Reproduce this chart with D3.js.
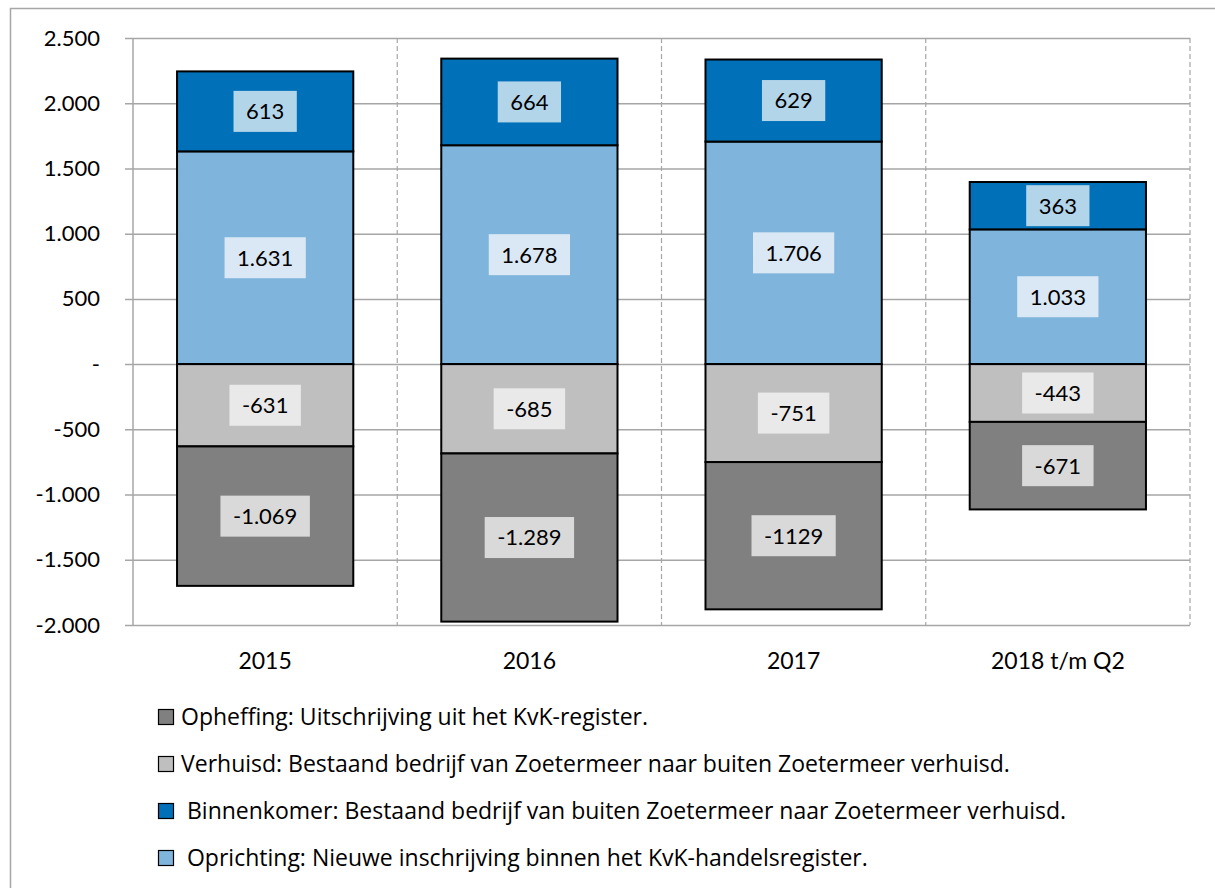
<!DOCTYPE html>
<html lang="nl">
<head>
  <meta charset="UTF-8" />
  <title>Vestigingen per jaar</title>
  <script src="https://d3js.org/d3.v7.min.js"></script>
  <style>
    body { margin: 0; background: #fff; }
    svg text { font-family: Lato, "Open Sans", sans-serif; fill: #000; }
  </style>
</head>
<body>
  <div id="chart"></div>
  <script>
    // data
    const years = ["2015", "2016", "2017", "2018 t/m Q2"];
    const oprichting = [1631, 1678, 1706, 1033];
    const binnenkomer = [613, 664, 629, 363];
    const verhuisd = [-631, -685, -751, -443];
    const opheffing = [-1069, -1289, -1129, -671];
    const yTicks = [2500, 2000, 1500, 1000, 500, 0, -500, -1000, -1500, -2000];
    const seriesKeys = ["Oprichting", "Binnenkomer", "Verhuisd", "Opheffing"];
    const legendItems = [
      ["Opheffing", "Opheffing: Uitschrijving uit het KvK-register."],
      ["Verhuisd", "Verhuisd: Bestaand bedrijf van Zoetermeer naar buiten Zoetermeer verhuisd."],
      ["Binnenkomer", " Binnenkomer: Bestaand bedrijf van buiten Zoetermeer naar Zoetermeer verhuisd."],
      ["Oprichting", " Oprichting: Nieuwe inschrijving binnen het KvK-handelsregister."]
    ];
    // one label in the original is printed without thousands separator
    const labelOverride = { "2017|Opheffing": "-1129" };

    const colors = { Oprichting: "#7fb5dc", Binnenkomer: "#0070b8", Verhuisd: "#bfbfbf", Opheffing: "#808080" };
    const labelFill = { Oprichting: "#d9e8f4", Binnenkomer: "#b3d5ea", Verhuisd: "#e9e9e9", Opheffing: "#d9d9d9" };

    const nl = d3.formatLocale({ decimal: ",", thousands: ".", grouping: [3], currency: ["€", ""], minus: "-" });
    const fmt = v => v === 0 ? "-" : nl.format(",")(v);

    const rows = years.map((y, i) => ({
      year: y, Oprichting: oprichting[i], Binnenkomer: binnenkomer[i], Verhuisd: verhuisd[i], Opheffing: opheffing[i]
    }));

    const width = 1215, height = 888;
    const plot = { left: 133, right: 1190, top: 38, bottom: 625 };

    const svg = d3.select("#chart").append("svg").attr("width", width).attr("height", height);

    // outer frame (runs off the right and bottom edges)
    svg.append("rect").attr("x", 10.5).attr("y", 8.5).attr("width", 1300).attr("height", 1000)
      .attr("fill", "none").attr("stroke", "#a6a6a6").attr("stroke-width", 1.5);

    const x = d3.scaleBand().domain(years).range([plot.left, plot.right]).paddingInner(0.333).paddingOuter(0.1667);
    const xCat = d3.scaleBand().domain(years).range([plot.left, plot.right]);
    const y = d3.scaleLinear().domain([-2000, 2500]).range([plot.bottom, plot.top]);

    // horizontal gridlines + y labels
    const yAxis = d3.axisLeft(y).tickValues(yTicks).tickFormat(fmt)
      .tickSize(-(plot.right - plot.left + 8)).tickPadding(25);
    const ga = svg.append("g").attr("transform", `translate(${plot.left - 8},0)`).call(yAxis);
    ga.select(".domain").remove();
    ga.selectAll(".tick line").attr("stroke", "#a6a6a6").attr("stroke-width", 1.5);
    ga.selectAll(".tick text").style("font-size", "22px").attr("fill", "#000");

    // vertical axis line and dashed category dividers
    svg.append("line").attr("x1", plot.left).attr("x2", plot.left).attr("y1", plot.top).attr("y2", plot.bottom)
      .attr("stroke", "#a6a6a6").attr("stroke-width", 1.5);
    svg.append("g").selectAll("line")
      .data(years)
      .enter().append("line")
      .attr("x1", d => xCat(d) + xCat.bandwidth()).attr("x2", d => xCat(d) + xCat.bandwidth())
      .attr("y1", plot.top).attr("y2", plot.bottom)
      .attr("stroke", "#a6a6a6").attr("stroke-width", 1.2).attr("stroke-dasharray", "5,3");

    // stacked bars
    const stack = d3.stack().keys(seriesKeys).offset(d3.stackOffsetDiverging);
    const series = stack(rows);

    const barG = svg.append("g");
    series.forEach(s => {
      barG.append("g").selectAll("rect")
        .data(s)
        .enter().append("rect")
        .attr("x", d => x(d.data.year))
        .attr("width", x.bandwidth())
        .attr("y", d => y(Math.max(d[0], d[1])))
        .attr("height", d => Math.abs(y(d[0]) - y(d[1])))
        .attr("fill", colors[s.key]).attr("stroke", "#000").attr("stroke-width", 2);
    });

    // value labels in boxes
    const labG = svg.append("g");
    series.forEach(s => {
      s.forEach(d => {
        const val = d.data[s.key];
        const txt = labelOverride[d.data.year + "|" + s.key] || fmt(val);
        const cx = x(d.data.year) + x.bandwidth() / 2;
        const cy = (y(d[0]) + y(d[1])) / 2;
        const g = labG.append("g");
        const t = g.append("text").attr("x", cx).attr("y", cy).attr("dy", "0.36em")
          .attr("text-anchor", "middle").style("font-size", "22px").text(txt);
        const w = t.node().getComputedTextLength() + 25;
        g.insert("rect", "text").attr("x", cx - w / 2).attr("y", cy - 20.5)
          .attr("width", w).attr("height", 41).attr("fill", labelFill[s.key]);
      });
    });

    // x labels
    svg.append("g").selectAll("text")
      .data(years)
      .enter().append("text")
      .attr("x", d => xCat(d) + xCat.bandwidth() / 2).attr("y", 661).attr("dy", "0.36em")
      .attr("text-anchor", "middle").style("font-size", "23px").text(d => d);

    // legend
    const leg = svg.append("g").selectAll("g")
      .data(legendItems)
      .enter().append("g")
      .attr("transform", (d, i) => `translate(158,${709 + i * 47})`);
    leg.append("rect").attr("x", 0.5).attr("y", 0.5).attr("width", 15).attr("height", 15)
      .attr("fill", d => colors[d[0]]).attr("stroke", "#000").attr("stroke-width", 1.2);
    leg.append("text").attr("x", 23).attr("y", 8).attr("dy", "0.36em")
      .style("font-family", "'Open Sans', sans-serif")
      .style("font-size", "23px").style("white-space", "pre").text(d => d[1]);
  </script>
</body>
</html>
